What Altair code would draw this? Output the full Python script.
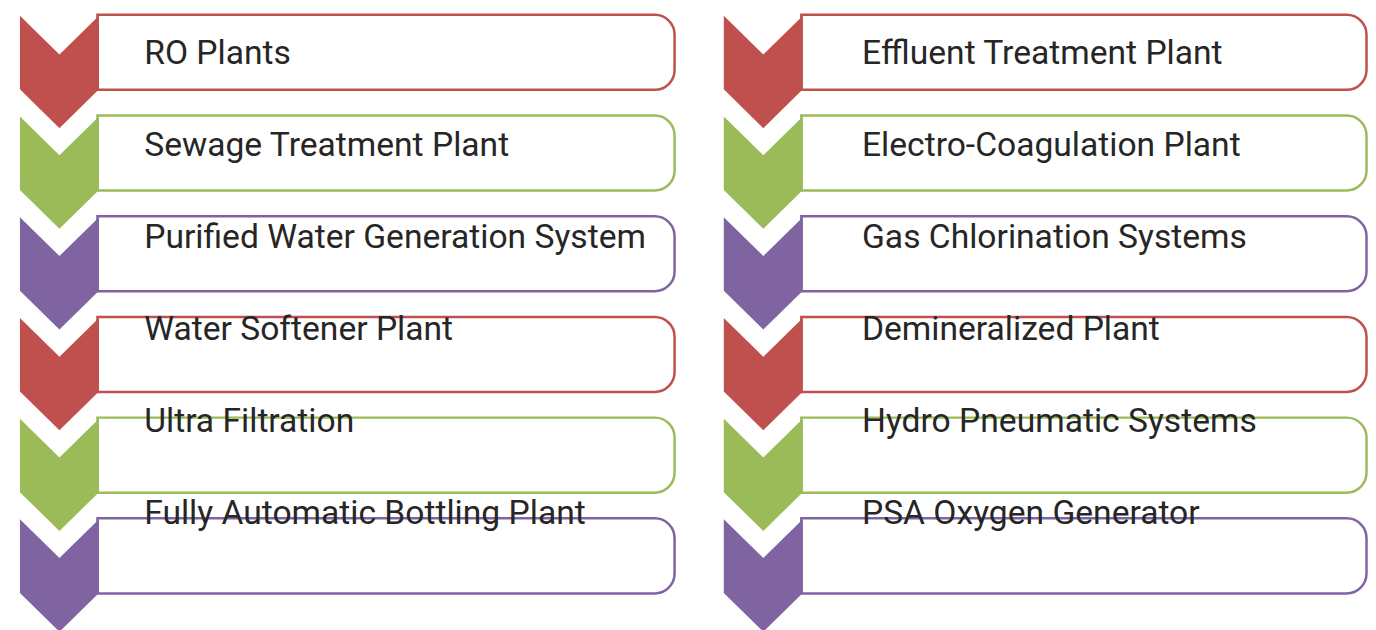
import altair as alt
import pandas as pd

# ---- data ----
left_items = [
    "RO Plants",
    "Sewage Treatment Plant",
    "Purified Water Generation System",
    "Water Softener Plant",
    "Ultra Filtration",
    "Fully Automatic Bottling Plant",
]
right_items = [
    "Effluent Treatment Plant",
    "Electro-Coagulation Plant",
    "Gas Chlorination Systems",
    "Demineralized Plant",
    "Hydro Pneumatic Systems",
    "PSA Oxygen Generator",
]
row_colors = ["#C0504D", "#9BBB59", "#8064A2", "#C0504D", "#9BBB59", "#8064A2"]

# ---- layout (diagram coordinate system in px of the 1376x630 picture) ----
MARGIN = 8
X_MAX, Y_MAX = 1376, 618
PITCH = 101.3
col_offsets = [0, 708]
CHEV_L, CHEV_R = 20, 99.5
CHEV_C = (CHEV_L + CHEV_R) / 2
BOX_R = [678.5, 1374.5]
TEXT_X = [145, 867]

chev_rows, box_rows, text_rows = [], [], []
for c, items in enumerate([left_items, right_items]):
    off = col_offsets[c]
    for i, label in enumerate(items):
        t = 14 + PITCH * i
        sid = f"{c}-{i}"
        for k, (xx, yt, yb) in enumerate([
            (CHEV_L, t, t + 74),
            (CHEV_C, t + 39, t + 113),
            (CHEV_R, t, t + 74),
        ]):
            chev_rows.append(dict(id=sid, k=k, x=xx + off, y=yt, y2=yb, color=row_colors[i]))
        box_rows.append(dict(id=sid, x=CHEV_R - 1.5 + off, x2=BOX_R[c],
                             y=13 + PITCH * i, y2=88.5 + PITCH * i, color=row_colors[i]))
        text_rows.append(dict(id=sid, x=TEXT_X[c], y=62 + 92.6 * i, label=label))

chev_df = pd.DataFrame(chev_rows)
box_df = pd.DataFrame(box_rows)
text_df = pd.DataFrame(text_rows)

xs = alt.Scale(domain=[MARGIN, X_MAX], nice=False, zero=False)
ys = alt.Scale(domain=[MARGIN, Y_MAX], nice=False, zero=False, reverse=True)

boxes = alt.Chart(box_df).mark_rect(
    fill="white", strokeWidth=2.5,
    cornerRadiusTopRight=20, cornerRadiusBottomRight=20,
).encode(
    x=alt.X("x:Q", scale=xs, axis=None),
    x2="x2:Q",
    y=alt.Y("y:Q", scale=ys, axis=None),
    y2="y2:Q",
    stroke=alt.Stroke("color:N", scale=None),
)

chevrons = alt.Chart(chev_df).mark_area(
    opacity=1, interpolate="linear", orient="vertical",
).encode(
    x=alt.X("x:Q", scale=xs, axis=None),
    y=alt.Y("y:Q", scale=ys, axis=None, stack=None),
    y2="y2:Q",
    detail="id:N",
    color=alt.Color("color:N", scale=None),
)

texts = alt.Chart(text_df).mark_text(
    align="left", baseline="alphabetic", font="Roboto", fontSize=33.8,
    fontWeight=400, color="#262626",
).encode(
    x=alt.X("x:Q", scale=xs, axis=None),
    y=alt.Y("y:Q", scale=ys, axis=None),
    text="label:N",
)

chart = alt.layer(boxes, chevrons, texts).properties(
    width=X_MAX - MARGIN, height=Y_MAX - MARGIN, padding=0,
).configure_view(stroke=None)

chart.save("out.html", embed_options={"renderer": "svg", "actions": False})
